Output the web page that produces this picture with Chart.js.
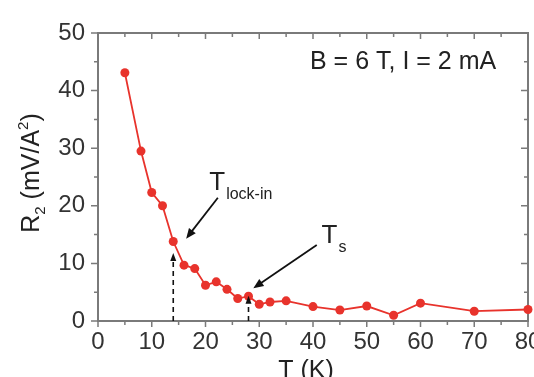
<!DOCTYPE html>
<html lang="en">
<head>
<meta charset="UTF-8">
<title>R2 vs T</title>
<script src="https://cdn.jsdelivr.net/npm/chart.js"></script>
<style>
  html, body { margin: 0; padding: 0; background: #fff; overflow: hidden; }
  #chart { display: block; }
</style>
</head>
<body>
<canvas id="chart" width="560" height="390"></canvas>
<script>
const temps = [5, 8, 10, 12, 14, 16, 18, 20, 22, 24, 26, 28, 30, 32, 35, 40, 45, 50, 55, 60, 70, 80];
const r2 = [43.1, 29.5, 22.3, 20.0, 13.8, 9.7, 9.1, 6.2, 6.8, 5.5, 3.9, 4.3, 2.9, 3.3, 3.5, 2.5, 1.9, 2.6, 1.0, 3.1, 1.7, 2.0];
const xRange = [0, 80];
const yRange = [0, 50];
// transition temperatures (dashed arrows up from the axis)
const markT = [14, 28];
const markTop = [11.8, 4.4];

const FONT = "'Liberation Sans', Arial, sans-serif";
const RED = '#e8332c';

// annotation placement in data units
const notes = [
  { sub: 'lock-in', tx: 20.7, ty: 22.7, from: [22.3, 21.4], to: [16.4, 14.3] },
  { sub: 's', tx: 41.6, ty: 13.5, from: [40.7, 13.2], to: [28.9, 5.7] }
];

function arrow(ctx, x1, y1, x2, y2, size) {
  const ang = Math.atan2(y2 - y1, x2 - x1);
  ctx.beginPath();
  ctx.moveTo(x1, y1);
  ctx.lineTo(x2 - Math.cos(ang) * size * 0.6, y2 - Math.sin(ang) * size * 0.6);
  ctx.stroke();
  ctx.beginPath();
  ctx.moveTo(x2, y2);
  ctx.lineTo(x2 - size * Math.cos(ang - 0.4), y2 - size * Math.sin(ang - 0.4));
  ctx.lineTo(x2 - size * Math.cos(ang + 0.4), y2 - size * Math.sin(ang + 0.4));
  ctx.closePath();
  ctx.fill();
}

const frame = {
  id: 'frame',
  beforeDatasetsDraw(chart) {
    const { ctx, chartArea: a, scales: { x, y } } = chart;
    ctx.save();
    ctx.strokeStyle = '#7a7a7a';
    ctx.lineWidth = 2;
    ctx.strokeRect(a.left, a.top, a.right - a.left, a.bottom - a.top);
    ctx.lineWidth = 1.5;
    ctx.beginPath();
    for (let v = xRange[0]; v <= xRange[1]; v += 5) {
      const px = x.getPixelForValue(v), len = v % 10 ? 4 : 6;
      ctx.moveTo(px, a.bottom); ctx.lineTo(px, a.bottom + len);
      ctx.moveTo(px, a.top); ctx.lineTo(px, a.top + len);
    }
    for (let v = yRange[0]; v <= yRange[1]; v += 5) {
      const py = y.getPixelForValue(v), len = v % 10 ? 4 : 7;
      ctx.moveTo(a.left, py); ctx.lineTo(a.left - len, py);
      ctx.moveTo(a.right, py); ctx.lineTo(a.right - len, py);
    }
    ctx.stroke();
    ctx.restore();
  },
  afterDatasetsDraw(chart) {
    const { ctx, chartArea: a, scales: { x, y } } = chart;
    ctx.save();
    ctx.strokeStyle = '#111';
    ctx.fillStyle = '#111';

    // dashed arrows at the transitions
    ctx.lineWidth = 1.6;
    markT.forEach((t, i) => {
      const px = x.getPixelForValue(t);
      const top = y.getPixelForValue(markTop[i]);
      ctx.setLineDash([5, 4]);
      ctx.beginPath();
      ctx.moveTo(px, a.bottom);
      ctx.lineTo(px, top + 5);
      ctx.stroke();
      ctx.setLineDash([]);
      ctx.beginPath();
      ctx.moveTo(px, top);
      ctx.lineTo(px - 3, top + 8);
      ctx.lineTo(px + 3, top + 8);
      ctx.closePath();
      ctx.fill();
    });

    // labelled arrows
    ctx.lineWidth = 1.8;
    notes.forEach(n => {
      arrow(ctx, x.getPixelForValue(n.from[0]), y.getPixelForValue(n.from[1]),
        x.getPixelForValue(n.to[0]), y.getPixelForValue(n.to[1]), 11);
      const lx = x.getPixelForValue(n.tx), ly = y.getPixelForValue(n.ty);
      ctx.fillStyle = '#222';
      ctx.font = '26px ' + FONT;
      ctx.fillText('T', lx, ly);
      const w = ctx.measureText('T').width;
      ctx.font = '16px ' + FONT;
      ctx.fillText(n.sub, lx + w + 1, ly + 9);
      ctx.fillStyle = '#111';
    });

    // field / current note
    ctx.fillStyle = '#222';
    ctx.font = '25px ' + FONT;
    ctx.fillText('B = 6 T, I = 2 mA', 310, 69);

    // axis titles
    ctx.font = '25px ' + FONT;
    ctx.textAlign = 'center';
    ctx.fillText('T (K)', 306, 378);

    ctx.textAlign = 'left';
    const parts = [['R', 25, 0], ['2', 15, 6], [' (mV/A', 25, 0], ['2', 15, -11], [')', 25, 0]];
    let total = 0;
    parts.forEach(p => { ctx.font = p[1] + 'px ' + FONT; total += ctx.measureText(p[0]).width; });
    ctx.translate(39, 173);
    ctx.rotate(-Math.PI / 2);
    let cx = -total / 2;
    parts.forEach(p => {
      ctx.font = p[1] + 'px ' + FONT;
      ctx.fillText(p[0], cx, p[2]);
      cx += ctx.measureText(p[0]).width;
    });
    ctx.restore();
  }
};

new Chart(document.getElementById('chart'), {
  type: 'line',
  data: {
    datasets: [{
      data: temps.map((t, i) => ({ x: t, y: r2[i] })),
      borderColor: RED,
      backgroundColor: RED,
      borderWidth: 1.8,
      pointRadius: 4.5,
      pointBorderWidth: 0,
      tension: 0,
      clip: false
    }]
  },
  options: {
    responsive: false,
    animation: false,
    layout: { padding: { top: 33, right: 32, left: 0, bottom: 0 } },
    plugins: { legend: { display: false }, tooltip: { enabled: false } },
    scales: {
      x: {
        type: 'linear', min: xRange[0], max: xRange[1],
        grid: { display: false, drawTicks: false },
        border: { display: false },
        ticks: { stepSize: 10, padding: 7, color: '#333', font: { size: 24, family: FONT } },
        afterFit(s) { s.height = 69; }
      },
      y: {
        min: yRange[0], max: yRange[1],
        grid: { display: false, drawTicks: false },
        border: { display: false },
        ticks: { stepSize: 10, padding: 13, color: '#333', font: { size: 24, family: FONT } },
        afterFit(s) { s.width = 98; }
      }
    }
  },
  plugins: [frame]
});
</script>
</body>
</html>
